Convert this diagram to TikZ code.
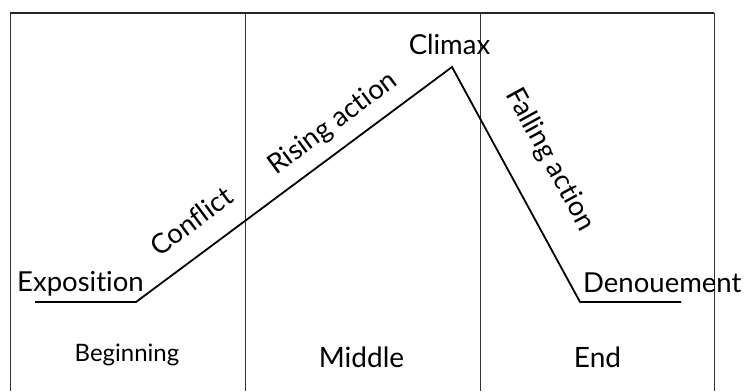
\documentclass[tikz,border=0pt]{standalone}
\usepackage{fontspec}
\setmainfont{Lato}[Ligatures={NoCommon,NoRequired,NoContextual}]
\begin{document}
\begin{tikzpicture}[x=1pt,y=-1pt,
  frame/.style={line width=1pt, draw=black!80},
  topline/.style={line width=1.4pt, draw=black!85},
  plotline/.style={line width=1.8pt, draw=black, line join=miter},
  lbl/.style={font=\fontsize{27.5}{29}\selectfont, inner sep=0pt},
  part/.style={font=\fontsize{28}{30}\selectfont, inner sep=0pt},
  partsmall/.style={font=\fontsize{24}{26}\selectfont, inner sep=0pt}]
\useasboundingbox (0,0) rectangle (744,391);
% frame
\coordinate (tl) at (10,13);
\coordinate (tr) at (714,13);
\coordinate (bl) at (10,391);
\coordinate (br) at (714,391);
\coordinate (d1t) at (245,13);
\coordinate (d1b) at (245,391);
\coordinate (d2t) at (480,13);
\coordinate (d2b) at (480,391);
\draw[topline] (tl) -- (tr);
\draw[frame] (tl) -- (bl);
\draw[frame] (tr) -- (br);
\draw[frame] (d1t) -- (d1b);
\draw[frame] (d2t) -- (d2b);
% plot line
\coordinate (p0) at (35,302);
\coordinate (p1) at (136,302);
\coordinate (p2) at (452,67);
\coordinate (p3) at (580,302);
\coordinate (p4) at (681,302);
\draw[plotline] (p0) -- (p1) -- (p2) -- (p3) -- (p4);
% labels
\node[lbl, anchor=base west] (expo) at (17,291) {Exposition};
\node[lbl, anchor=base] (climax) at (449.5,54) {Climax};
\node[lbl, anchor=base west] (denoue) at (583,292) {Denouement};
\node[lbl, rotate=36.6] (conflict) at (191,221) {Conflict};
\node[lbl, rotate=36.6] (rising) at (333,124) {Rising action};
\node[lbl, rotate=-61.4] (falling) at (550,160) {Falling action};
\node[partsmall, anchor=base] (beg) at (127,361) {Beginning};
\node[part, anchor=base] (mid) at (361.5,367) {Middle};
\node[part, anchor=base] (end) at (597.5,367) {End};
\end{tikzpicture}
\end{document}
